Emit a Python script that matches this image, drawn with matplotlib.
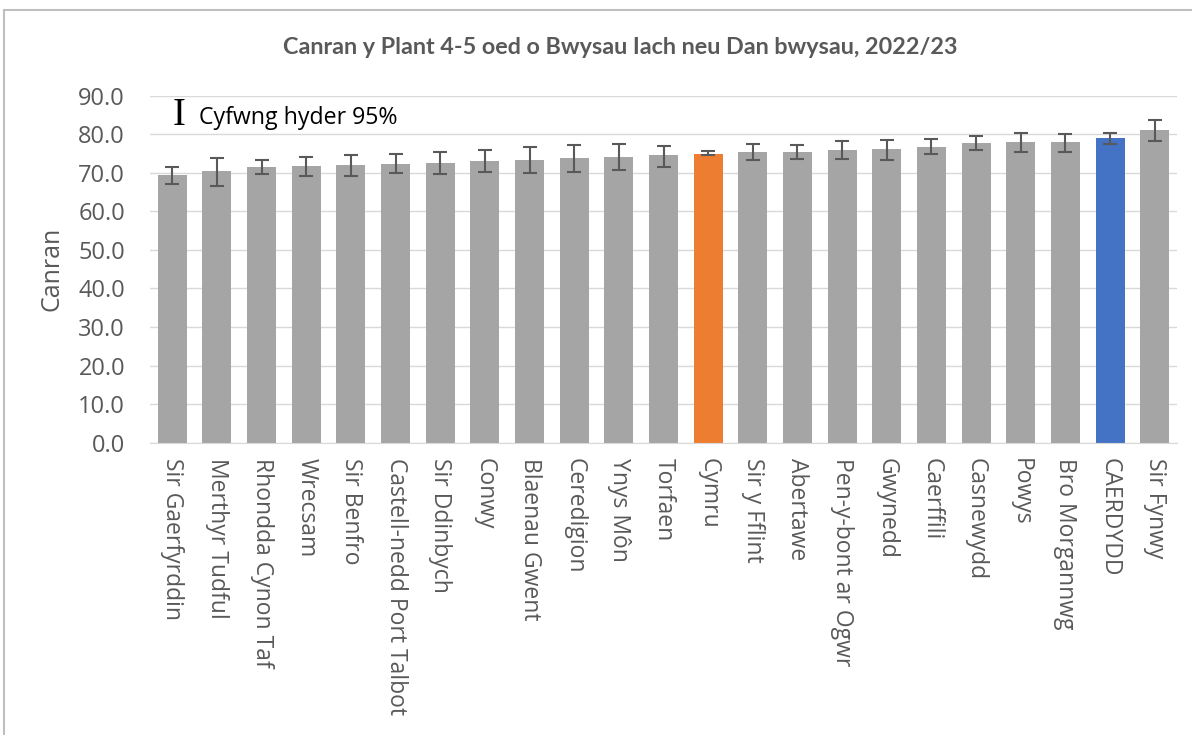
import matplotlib.pyplot as plt
import matplotlib.patches as mpatches
import numpy as np

plt.rcParams["font.family"] = ["Open Sans", "DejaVu Sans"]

areas = ["Sir Gaerfyrddin", "Merthyr Tudful", "Rhondda Cynon Taf", "Wrecsam",
         "Sir Benfro", "Castell-nedd Port Talbot", "Sir Ddinbych", "Conwy",
         "Blaenau Gwent", "Ceredigion", "Ynys Môn", "Torfaen", "Cymru",
         "Sir y Fflint", "Abertawe", "Pen-y-bont ar Ogwr", "Gwynedd", "Caerffili",
         "Casnewydd", "Powys", "Bro Morgannwg", "CAERDYDD", "Sir Fynwy"]
values = [69.4, 70.5, 71.6, 71.7, 71.9, 72.4, 72.5, 73.0,
          73.2, 73.9, 74.1, 74.5, 75.0,
          75.5, 75.5, 76.0, 76.1, 76.8,
          77.8, 77.9, 77.9, 79.0, 81.2]
ci_low = [67.2, 66.7, 69.7, 69.2, 69.2, 70.0, 69.6, 70.3,
          69.9, 70.3, 70.7, 71.6, 74.5,
          73.2, 73.7, 73.7, 73.4, 75.0,
          75.8, 75.3, 75.5, 77.5, 78.3]
ci_high = [71.6, 73.9, 73.4, 74.2, 74.5, 74.8, 75.4, 75.8,
           76.6, 77.3, 77.4, 76.9, 75.6,
           77.6, 77.3, 78.3, 78.5, 78.7,
           79.5, 80.2, 80.0, 80.3, 83.7]

grey = "#a5a5a5"
text_col = "#595959"
colors = [grey] * len(areas)
colors[areas.index("Cymru")] = "#ed7d31"
colors[areas.index("CAERDYDD")] = "#4472c4"

fig = plt.figure(figsize=(11.92, 7.35), dpi=100)
ax = fig.add_axes([150 / 1192, 1 - 442.7 / 735, 1027 / 1192, 347 / 735])

x = np.arange(len(areas))
vals = np.array(values)
yerr = [vals - np.array(ci_low), np.array(ci_high) - vals]
ax.bar(x, vals, width=0.65, color=colors, zorder=2)
ax.errorbar(x, vals, yerr=yerr, fmt="none", ecolor=text_col, elinewidth=1.5,
            capsize=5, capthick=1.5, zorder=3)

ax.set_xlim(-0.5, len(areas) - 0.5)
ax.set_ylim(0, 90)
ax.set_yticks(np.arange(0, 91, 10))
ax.set_yticklabels([f"{v:.1f}" for v in np.arange(0, 91, 10)])
ax.set_xticks(x)
ax.set_xticklabels(areas, rotation=-90, ha="center", va="top")
ax.tick_params(axis="both", length=0, colors=text_col)
ax.tick_params(axis="x", pad=11, labelsize=16.5)
ax.tick_params(axis="y", pad=18, labelsize=17)
ax.grid(axis="y", color="#d9d9d9", linewidth=1, zorder=0)
for s in ["top", "right", "left"]:
    ax.spines[s].set_visible(False)
ax.spines["bottom"].set_color("#d9d9d9")
ax.set_ylabel("Canran", fontsize=18, color=text_col, labelpad=10)

fig.text(620 / 1192, 1 - 47 / 735, "Canran y Plant 4-5 oed o Bwysau Iach neu Dan bwysau, 2022/23",
         ha="center", va="center", fontsize=16.8, fontweight="bold", color=text_col,
         family="Lato")

# legend for the confidence interval
ax.text(0.14, 84.9, "I", fontsize=28, family="Liberation Serif", color="black",
        ha="center", va="center")
ax.text(0.59, 84.3, "Cyfwng hyder 95%", fontsize=16.7, color="black",
        ha="left", va="center")

# outer frame
fig.patches.append(mpatches.Rectangle((4 / 1192, -0.1), 1.2, 1 - 10 / 735 + 0.1,
                                      transform=fig.transFigure, fill=False,
                                      edgecolor="#bfbfbf", linewidth=1.5))

fig.savefig("out.png", dpi=100)
